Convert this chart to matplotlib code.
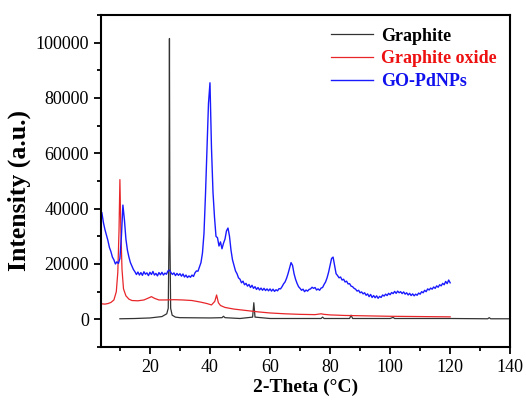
import numpy as np
import matplotlib
matplotlib.use("Agg")
import matplotlib.pyplot as plt
from matplotlib.ticker import MultipleLocator

plt.rcParams["font.family"] = ["Liberation Serif", "DejaVu Serif"]

# Graphite (black)
graphite_x = [10, 15, 20, 24, 25.6, 26.1, 26.35, 26.5, 26.65, 26.9, 27.4, 28.5, 30, 40,
              44.0, 44.5, 45.0, 50, 54.2, 54.6, 55.0, 60, 77.0, 77.5, 78.0, 86.5, 87.0,
              87.5, 100, 101.0, 101.5, 102, 120, 132.5, 133.0, 133.5, 140]
graphite_y = [200, 300, 500, 1000, 2000, 4000, 30000, 101500, 30000, 4000, 1500, 800, 600, 500,
              600, 1100, 600, 300, 800, 6000, 800, 300, 300, 800, 300, 300, 1500,
              300, 300, 700, 300, 300, 300, 200, 600, 200, 200]

# Graphite oxide (red)
go_x = [4, 5, 6, 7, 8, 8.8, 9.3, 9.7, 10.0, 10.3, 10.7, 11.2, 12, 13, 14, 16, 18, 19.5,
        20.5, 21.5, 23, 25, 28, 31, 34, 37, 39, 40.5, 41.6, 42.2, 42.8, 43.5, 45, 48,
        52, 56, 60, 65, 70, 75, 77, 78, 80, 85, 90, 100, 110, 120]
go_y = [5600, 5500, 5700, 6100, 7000, 10000, 17000, 32000, 50500, 33000, 18000, 11000,
        8500, 7300, 6800, 6700, 7000, 7700, 8200, 7600, 7000, 7000, 7100, 7000, 6800,
        6200, 5700, 5200, 6500, 8800, 6000, 5000, 4300, 3700, 3200, 2700, 2300, 2000,
        1800, 1700, 2000, 1800, 1600, 1400, 1300, 1100, 1000, 900]

# GO-PdNPs (blue), sampled every 0.5 deg from 4 to 120
gopd_y = [
    38500, 35000, 32500, 30500, 28500, 26000, 24500, 22500, 21500, 20000,
    20800, 20200, 22000, 30000, 41300, 36000, 29000, 25000, 22500, 20500,
    19200, 18000, 17200, 16200, 17100, 16000, 16900, 15900, 17200, 16300,
    16800, 15800, 17000, 16200, 17300, 16000, 16600, 15700, 16900, 16100,
    17000, 16000, 16700, 16300, 17500, 17800, 16900, 16200, 16800, 15800,
    16600, 15900, 16500, 15600, 16400, 15300, 16000, 15100, 15700, 15200,
    16000, 15500, 16800, 17500, 17400, 19000, 20500, 24000, 31000, 45000,
    62000, 78000, 85500, 62000, 46000, 37000, 30000, 29500, 26500, 28000,
    25500, 27500, 29000, 32000, 33000, 30000, 25000, 21500, 19500, 17500,
    16500, 15000, 14500, 13200, 13800, 12500, 13000, 12000, 12600, 11500,
    12300, 11200, 11800, 10800, 11500, 10600, 11300, 10500, 11200, 10400,
    11000, 10300, 11000, 10200, 10900, 10100, 10700, 10300, 11100, 11000,
    11800, 12800, 13500, 14800, 16500, 18500, 20500, 19500, 16500, 14500,
    13000, 11800, 11200, 10500, 10900, 10000, 10600, 10200, 10800, 11000,
    11600, 11200, 11500, 10600, 11000, 10500, 11300, 11500, 12600, 13500,
    15000, 17000, 19500, 22000, 22500, 19500, 16500, 15800, 15000, 15300,
    14200, 14500, 13500, 13800, 12800, 12900, 12000, 11800, 11200, 10900,
    10200, 10500, 9600, 9900, 9200, 9600, 8700, 9200, 8200, 9000,
    7900, 8600, 7800, 8500, 7600, 8300, 7900, 8800, 8400, 9100,
    8600, 9400, 8900, 9700, 9300, 10100, 9400, 10200, 9600, 10000,
    9300, 9900, 9100, 9600, 8800, 9400, 8600, 9200, 8500, 9100,
    8700, 9500, 9100, 10000, 9600, 10500, 10000, 11000, 10600, 11300,
    10900, 11700, 11200, 12100, 11600, 12500, 12100, 13000, 12500, 13700,
    12900, 14200, 13200,
]
gopd_x = 4 + 0.5 * np.arange(len(gopd_y))

fig = plt.figure(figsize=(5.26, 4.0), dpi=100)
ax = fig.add_axes([0.192, 0.1325, 0.778, 0.83])

ax.plot(graphite_x, graphite_y, color="#333333", lw=0.9, label="Graphite")
ax.plot(go_x, go_y, color="#e8262a", lw=0.9, label="Graphite oxide")
ax.plot(gopd_x, gopd_y, color="#1a1aff", lw=1.0, label="GO-PdNPs")

ax.set_xlim(3.7, 140)
ax.set_ylim(-10000, 110000)
ax.xaxis.set_major_locator(MultipleLocator(20))
ax.xaxis.set_minor_locator(MultipleLocator(10))
ax.yaxis.set_major_locator(MultipleLocator(20000))
ax.yaxis.set_minor_locator(MultipleLocator(10000))
ax.tick_params(which="major", direction="out", length=5, width=1.3, labelsize=13)
ax.tick_params(which="minor", direction="out", length=3, width=1.3)
for sp in ax.spines.values():
    sp.set_linewidth(1.5)

ax.set_xlabel("2-Theta (°C)", fontsize=14, fontweight="bold", labelpad=2)
ax.set_ylabel("Intensity (a.u.)", fontsize=18.5, fontweight="bold")
ax.yaxis.set_label_coords(-0.172, 0.47)

leg = ax.legend(loc="upper right", frameon=False, fontsize=13, handlelength=2.3,
                handletextpad=0.45, labelspacing=0.32, borderaxespad=0.3,
                bbox_to_anchor=(0.997, 1.0))
text_colors = ["black", "#ee1111", "#1111ee"]
for txt, c in zip(leg.get_texts(), text_colors):
    txt.set_color(c)
    txt.set_fontweight("bold")

fig.savefig("out.png", dpi=100)
